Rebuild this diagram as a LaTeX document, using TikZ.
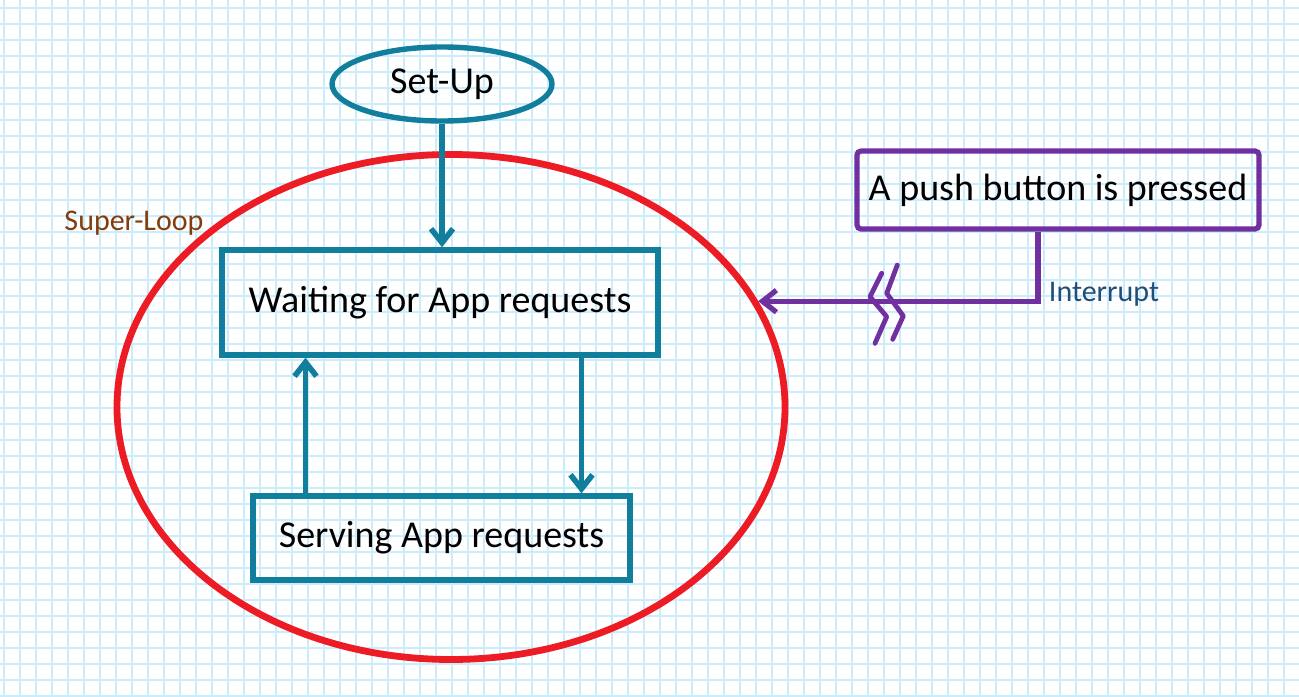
\documentclass[tikz,border=0pt]{standalone}
\usepackage{fontspec}
\setmainfont{Carlito}
\usetikzlibrary{arrows.meta,shapes.geometric}

\definecolor{flowteal}{RGB}{16,126,156}
\definecolor{loopred}{RGB}{237,28,36}
\definecolor{irqpurple}{RGB}{112,48,160}
\definecolor{loopbrown}{RGB}{132,60,12}
\definecolor{irqblue}{RGB}{31,78,121}
\definecolor{paper}{RGB}{202,236,251}

\begin{document}
\begin{tikzpicture}[x=0.5pt,y=-0.5pt,
      >={Straight Barb[length=7pt,width=11pt]},
      bigtext/.style={font=\fontsize{19}{23}\selectfont},
      smalltext/.style={font=\fontsize{15}{18}\selectfont,inner sep=0pt},
      box/.style={draw=flowteal,line width=2.7pt,inner sep=0pt,bigtext},
      flow/.style={->,draw=flowteal,line width=2.8pt},
      irq/.style={draw=irqpurple,line width=2.6pt},
      brk/.style={irq,line width=2.4pt,line cap=round,line join=round}]

    % graph paper
    \fill[white] (0,0) rectangle (1299,696);
    \useasboundingbox (0,0) rectangle (1299,696);
    \foreach \gx in {4,20,...,1300}
      \draw[paper,line width=1pt] (\gx,0) -- (\gx,696);
    \foreach \gy in {8,24,...,696}
      \draw[paper,line width=1pt] (0,\gy) -- (1299,\gy);

    \node[ellipse,draw=loopred,line width=3.4pt,minimum width=334pt,minimum height=252.5pt] (loop) at (451,407) {};
    \node[smalltext,text=loopbrown] (looplabel) at (134,223) {Super-Loop};

    \node[box,ellipse,minimum width=110pt,minimum height=37pt] (setup) at (442,84) {Set-Up};
    \node[box,minimum width=218pt,minimum height=52.5pt] (wait) at (440,302.5) {Waiting for App requests};
    \node[box,minimum width=188.5pt,minimum height=42pt] (serve) at (441.5,538) {Serving App requests};

    \node[irq,bigtext,rounded corners=2pt,inner sep=0pt,minimum width=201pt,minimum height=39pt] (button) at (1058,190) {A push button is pressed};
    \node[smalltext,text=irqblue] (irqlabel) at (1104,294) {Interrupt};

    \draw[flow] (setup.south) -- (setup.south |- wait.north);
    \draw[flow] ([xshift=-68pt]serve.north) -- ([xshift=-68pt]serve.north |- wait.south);
    \draw[flow] ([xshift=70pt]serve.north |- wait.south) -- ([xshift=70pt]serve.north);

    \draw[irq,->] ([xshift=-10pt]button.south) |- (loop.19);
    % break mark
    \draw[brk] (881.7,273.3) -- (870,296.7) -- (886.7,316.7) -- (875,343.3);
    \draw[brk] (897.3,265) -- (886.7,293.3) -- (903.3,316) -- (892.7,339.3);

\end{tikzpicture}
\end{document}
